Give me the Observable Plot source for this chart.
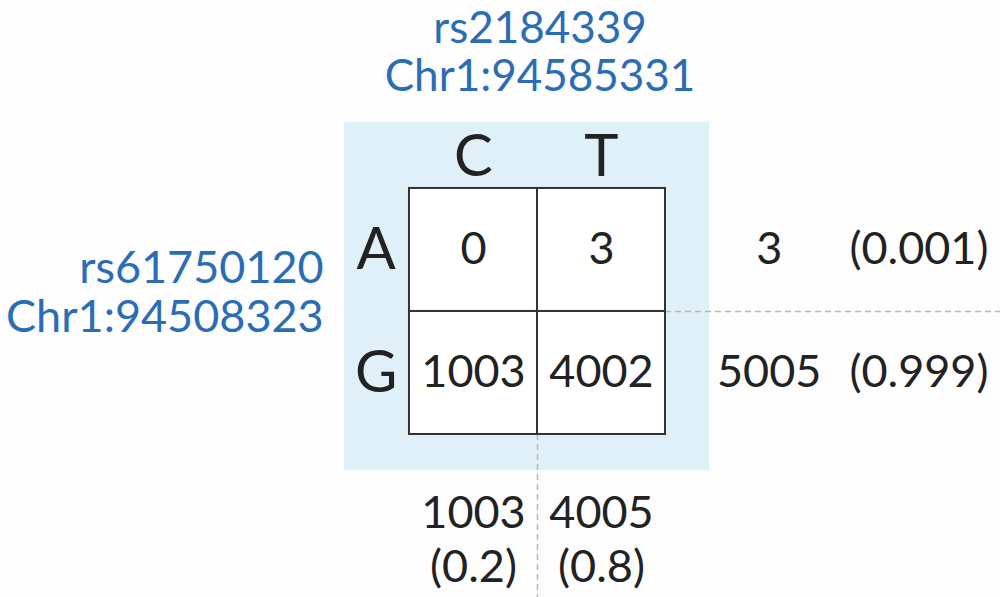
<!DOCTYPE html>
<html>
<head>
<meta charset="utf-8">
<script src="https://cdn.jsdelivr.net/npm/d3@7"></script>
<script src="https://cdn.jsdelivr.net/npm/@observablehq/plot@0.6"></script>
<style>
  html, body { margin: 0; padding: 0; background: #fdfdfd; }
</style>
</head>
<body>
<div id="chart"></div>
<script>
// ---- data ----
const colAlleles = ["C", "T"];
const rowAlleles = ["A", "G"];
const counts = [[0, 3], [1003, 4002]];
const rowTotals = [3, 5005];
const rowFreqs = ["(0.001)", "(0.999)"];
const colTotals = [1003, 4005];
const colFreqs = ["(0.2)", "(0.8)"];
const snpTop = ["rs2184339", "Chr1:94585331"];
const snpLeft = ["rs61750120", "Chr1:94508323"];

// ---- layout (in cell units; one cell = one unit) ----
const W = 1000, H = 597;
const xDomain = [-3.195, 4.617];
const yDomain = [-1.528, 3.325];
const box = {x1: -0.508, x2: 2.344, y1: -0.537, y2: 2.293};
const blue = "#2b6db5";
const ink = "#222";
const font = "Lato, 'Open Sans', sans-serif";
const numSize = 45;

const cells = [];
rowAlleles.forEach((r, i) => colAlleles.forEach((c, j) => cells.push({r: i, c: j, v: counts[i][j]})));

const plot = Plot.plot({
  width: W, height: H, margin: 0,
  x: {domain: xDomain, range: [0, W], axis: null},
  y: {domain: yDomain, range: [0, H], axis: null},
  style: {background: "transparent", overflow: "visible"},
  marks: [
    Plot.rect([box], {x1: "x1", x2: "x2", y1: "y1", y2: "y2", fill: "#dff0f9"}),
    Plot.ruleY([rowAlleles.length - 1], {x1: colAlleles.length, x2: xDomain[1], stroke: "#b8b8b8", strokeWidth: 1.5, strokeDasharray: "6,4"}),
    Plot.ruleX([colAlleles.length - 1], {y1: rowAlleles.length, y2: yDomain[1], stroke: "#b8b8b8", strokeWidth: 1.5, strokeDasharray: "6,4"}),
    Plot.rect(cells, {x1: d => d.c, x2: d => d.c + 1, y1: d => d.r, y2: d => d.r + 1, fill: "white", stroke: "#333", strokeWidth: 2}),
    Plot.text(cells, {x: d => d.c + 0.5, y: d => d.r + 0.5, text: d => String(d.v), fontSize: numSize, fill: ink, fontFamily: font}),
    // column allele labels
    Plot.text(colAlleles, {x: (d, i) => i + 0.5, y: -0.25, text: d => d, fontSize: 58, fill: ink, fontFamily: font}),
    // row allele labels
    Plot.text(rowAlleles, {x: -0.26, y: (d, i) => i + 0.5, text: d => d, fontSize: 58, fill: ink, fontFamily: font}),
    // row totals + freqs
    Plot.text(rowTotals, {x: 2.81, y: (d, i) => i + 0.5, text: d => String(d), fontSize: numSize, fill: ink, fontFamily: font}),
    Plot.text(rowFreqs, {x: 3.98, y: (d, i) => i + 0.5, text: d => d, fontSize: numSize, fill: ink, fontFamily: font}),
    // column totals + freqs
    Plot.text(colTotals, {x: (d, i) => i + 0.5, y: 2.64, text: d => String(d), fontSize: numSize, fill: ink, fontFamily: font}),
    Plot.text(colFreqs, {x: (d, i) => i + 0.5, y: 3.08, text: d => d, fontSize: numSize, fill: ink, fontFamily: font}),
    // SNP labels
    Plot.text(snpTop, {x: 1.02, y: (d, i) => -1.30 + i * 0.39, text: d => d, fontSize: 44, fill: blue, fontFamily: font}),
    Plot.text(snpLeft, {x: -0.67, y: (d, i) => 0.65 + i * 0.40, text: d => d, fontSize: 45, fill: blue, fontFamily: font, textAnchor: "end"})
  ]
});
document.getElementById("chart").appendChild(plot);
</script>
</body>
</html>
